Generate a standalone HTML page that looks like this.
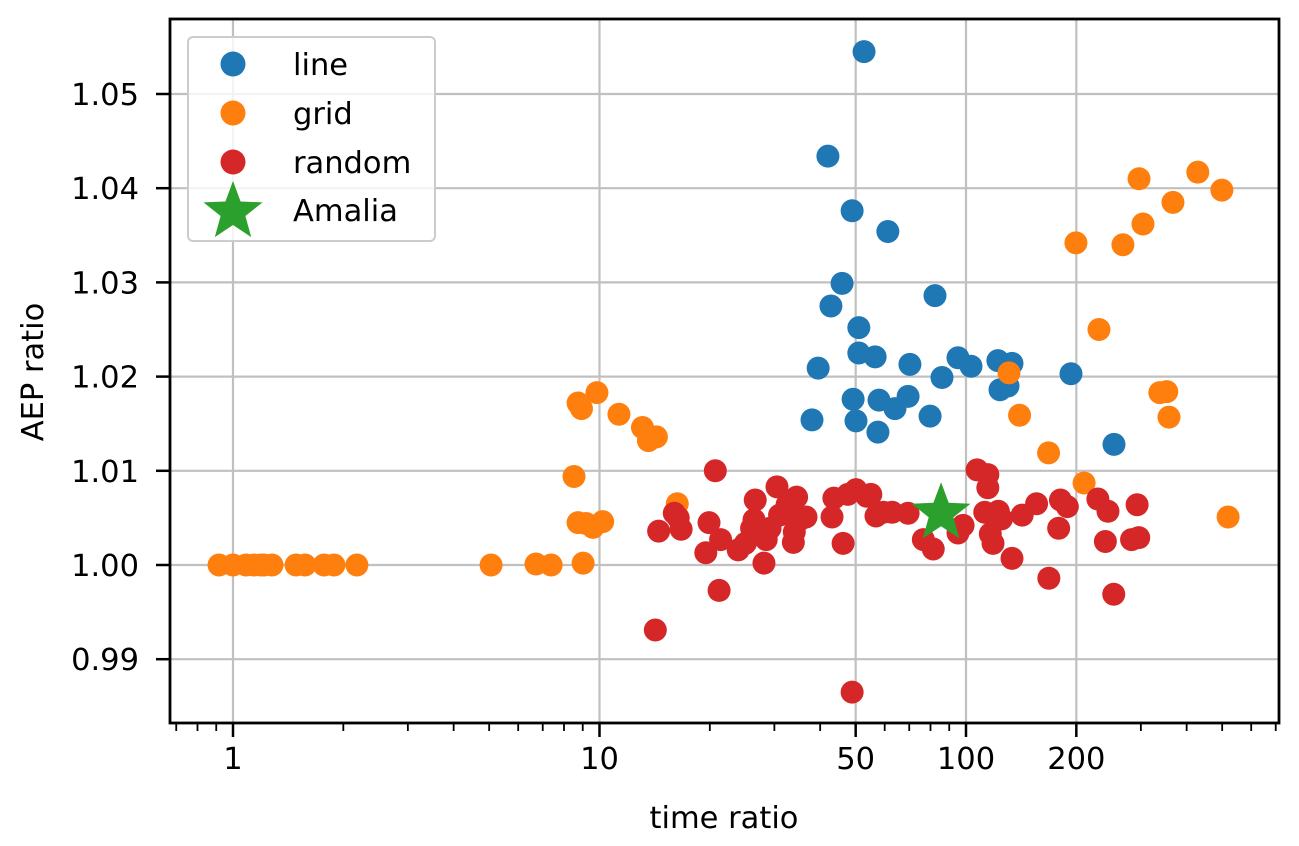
<!DOCTYPE html>
<html><head><meta charset="utf-8"><style>
html,body{margin:0;padding:0;background:#fff;}
svg{display:block;font-family:"DejaVu Sans","Liberation Sans",sans-serif;}
</style></head><body>
<svg id="chart" width="1299" height="846" viewBox="0 0 1299 846" xmlns="http://www.w3.org/2000/svg">
<rect width="1299" height="846" fill="#fff"/>
<g id="grid"></g>
<g id="ticks"></g>
<g id="marks"></g>
<rect x="170" y="19" width="1109" height="704" fill="none" stroke="#000" stroke-width="2.8"/>
<text x="724" y="828" font-size="30.5" text-anchor="middle">time ratio</text>
<text transform="translate(43,372) rotate(-90)" font-size="30.5" text-anchor="middle">AEP ratio</text>
<g>
<rect x="188" y="37" width="247" height="204" rx="5" fill="#fff" fill-opacity="0.8" stroke="#ccc" stroke-width="2"/>
<circle cx="233" cy="64" r="12.5" fill="#1f77b4"/>
<text x="293" y="75" font-size="30.5">line</text>
<circle cx="233" cy="113" r="12.5" fill="#ff7f0e"/>
<text x="293" y="124" font-size="30.5">grid</text>
<circle cx="233" cy="162" r="12.5" fill="#d62728"/>
<text x="293" y="173" font-size="30.5">random</text>
<polygon id="legstar" fill="#2ca02c"/>
<text x="293" y="221" font-size="30.5">Amalia</text>
</g>
</svg>
<script>
const lineX=[52.7,42.0,48.9,61.2,45.9,82.3,42.8,51.0,51.0,56.5,39.5,70.3,95.1,103.2,122.2,133.5,123.8,130.2,86.0,193.4,49.2,57.9,69.5,64.0,79.8,38.0,50.1,57.5,253.4];
const lineY=[1.0545,1.0434,1.0376,1.0354,1.0299,1.0286,1.0275,1.0252,1.0225,1.0221,1.0209,1.0213,1.0220,1.0211,1.0217,1.0214,1.0186,1.0190,1.0199,1.0203,1.0176,1.0175,1.0179,1.0166,1.0158,1.0154,1.0153,1.0141,1.0128];
const gridX=[0.916,1.0,1.085,1.141,1.192,1.215,1.278,1.486,1.572,1.772,1.886,2.178,5.06,6.71,7.38,9.02,8.52,8.74,8.93,9.84,11.3,13.1,13.6,14.3,8.74,9.19,9.60,10.2,16.3,131,140,168,210,199.5,230.6,296.6,304,367,429,499,268,338,353,358,519];
const gridY=[1,1,1,1,1,1,1,1,1,1,1,1,1.0,1.0001,1.0,1.0002,1.0094,1.0172,1.0166,1.0183,1.0160,1.0146,1.0132,1.0136,1.0045,1.0044,1.0040,1.0046,1.0065,1.0204,1.0159,1.0119,1.0087,1.0342,1.0250,1.0410,1.0362,1.0385,1.0417,1.0398,1.0340,1.0183,1.0184,1.0157,1.0051];
const randX=[14.2,48.9,14.5,16.0,16.4,16.7,20.7,19.9,19.5,21.2,21.4,23.9,25.0,26.0,26.4,26.6,27.7,28.1,28.5,29.2,30.5,31.0,32.5,33.0,34.0,34.5,33.8,35.2,36.6,43.1,43.6,46.2,47.6,50.1,53.6,55,56.8,59.5,62.9,69.5,76.5,81.4,95.1,98.2,107.2,114.7,114.7,112.5,116.5,118.5,122.5,125.0,133.5,142.3,155.8,168.3,181,179,189,229,240,244,253,283,293,296];
const randY=[0.9931,0.9865,1.0036,1.0055,1.0050,1.0038,1.0100,1.0045,1.0013,0.9973,1.0027,1.0016,1.0023,1.0039,1.0048,1.0069,1.0037,1.0002,1.0027,1.0039,1.0083,1.0053,1.0064,1.0066,1.0035,1.0072,1.0024,1.0048,1.0051,1.0051,1.0071,1.0023,1.0075,1.0080,1.0073,1.0075,1.0052,1.0056,1.0056,1.0055,1.0027,1.0017,1.0034,1.0042,1.0101,1.0096,1.0082,1.0056,1.0033,1.0023,1.0057,1.0049,1.0007,1.0053,1.0065,0.9986,1.0069,1.0039,1.0062,1.0070,1.0025,1.0057,0.9969,1.0027,1.0064,1.0029];
const amaliaX=[85.5];
const amaliaY=[1.0057];
const xTickVals=[1,10,50,100,200];
const xTickLabels=["1","10","50","100","200"];
const xMinor=[0.7,0.8,0.9,2,3,4,5,6,7,8,9,20,30,40,60,70,80,90,300,400,500,600,700];
const yTickVals=[0.99,1.00,1.01,1.02,1.03,1.04,1.05];
const yTickLabels=["0.99","1.00","1.01","1.02","1.03","1.04","1.05"];

const NS="http://www.w3.org/2000/svg";
const L=170,R=1279,T=19,B=723;
function sx(v){return 233+366.5*Math.log10(v);}
function sy(v){return 565-(v-1)*9420;}
function mk(tag,attrs,parent){const e=document.createElementNS(NS,tag);for(const k in attrs)e.setAttribute(k,attrs[k]);parent.appendChild(e);return e;}
const grid=document.getElementById('grid'),ticks=document.getElementById('ticks'),marks=document.getElementById('marks');
xTickVals.forEach((v,i)=>{
  const x=sx(v);
  const g=mk('line',{x1:x,x2:x,y1:T,y2:B,stroke:'#c0c0c0','stroke-width':2.2},grid);
  
  
  const t=mk('line',{x1:x,x2:x,y1:B,y2:B+14,stroke:'#000','stroke-width':2.5},ticks);
  
  
  const lb=mk('text',{x:x,y:769,'font-size':30.5,'text-anchor':'middle'},ticks);
  lb.textContent=xTickLabels[i];
  
  
});
xMinor.forEach(v=>{
  const x=sx(v);
  const t=mk('line',{x1:x,x2:x,y1:B,y2:B+8,stroke:'#000','stroke-width':1.8},ticks);
  
  
});
yTickVals.forEach((v,i)=>{
  const y=sy(v);
  const g=mk('line',{x1:L,x2:R,y1:y,y2:y,stroke:'#c0c0c0','stroke-width':2.2},grid);
  
  
  const t=mk('line',{x1:L-14,x2:L,y1:y,y2:y,stroke:'#000','stroke-width':2.5},ticks);
  
  
  const lb=mk('text',{x:139,y:y+11,'font-size':30.5,'text-anchor':'end'},ticks);
  lb.textContent=yTickLabels[i];
  
  
});
function series(xs,ys,color,name){
  xs.forEach((v,i)=>{
    const c=mk('circle',{cx:sx(v),cy:sy(ys[i]),r:11.5,fill:color},marks);
    
    
  });
}
series(lineX,lineY,'#1f77b4','line-point');
series(gridX,gridY,'#ff7f0e','grid-point');
series(randX,randY,'#d62728','random-point');
function starPts(cx,cy,ro,ri){const p=[];for(let k=0;k<10;k++){const a=-Math.PI/2+k*Math.PI/5;const r=k%2?ri:ro;p.push((cx+r*Math.cos(a)).toFixed(1)+','+(cy+r*Math.sin(a)).toFixed(1));}return p.join(' ');}
amaliaX.forEach((v,i)=>{
  const s=mk('polygon',{points:starPts(sx(v),sy(amaliaY[i])+2,31,13),fill:'#2ca02c'},marks);
  
  
});
document.getElementById('legstar').setAttribute('points',starPts(233,212,31,13));
</script>
</body></html>
